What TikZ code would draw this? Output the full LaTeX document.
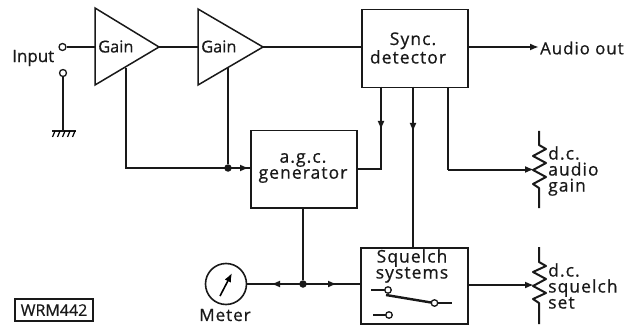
\documentclass[tikz,border=0pt]{standalone}
\usepackage{fontspec}
\setmainfont{Open Sans}[FakeBold=0.7]
\newfontfamily\widefont{Open Sans}[FakeBold=0.7,LetterSpace=6]
\usetikzlibrary{arrows.meta,calc}
\tikzset{
  wire/.style={line width=2pt,black!90},
  thin wire/.style={line width=1.5pt,black!90},
  arr/.style={wire,-{Latex[length=9pt,width=7pt]}},
  blockbox/.style={draw=black!90,line width=1.5pt,fill=white,inner sep=0pt},
  lbl/.style={font=\fontsize{17}{16}\selectfont,inner sep=0pt,text=black!90,align=center},
  lblwide/.style={font=\widefont\fontsize{17.5}{16}\selectfont,inner sep=0pt,text=black!90,align=center},
  term/.style={circle,draw=black!90,line width=1.3pt,fill=white,minimum size=7pt,inner sep=0pt},
  junction/.style={circle,fill=black!90,minimum size=7.5pt,inner sep=0pt},
}
\begin{document}
\begin{tikzpicture}[x=1pt,y=-1pt]
\useasboundingbox (0,0) rectangle (634,326);
% ---- coordinates
\coordinate (g1a) at (95,8); \coordinate (g1b) at (95,85); \coordinate (g1c) at (159,47);
\coordinate (g2a) at (198,9); \coordinate (g2b) at (198,85); \coordinate (g2c) at (263,47);
\coordinate (g1i) at (95,47); \coordinate (g2i) at (198,47);
\coordinate (g1f) at (125.5,68); \coordinate (g2f) at (228,68);
% ---- blocks
\node[blockbox,minimum width=106pt,minimum height=78pt,anchor=north west] (sync) at (361,9) {};
\node[lblwide] (synct) at (408,48) {\hspace*{10pt}Sync.\\detector};
\node[blockbox,minimum width=106pt,minimum height=77pt,anchor=north west] (agc) at (250,130) {};
\node[lblwide] (agct) at (303,168) {a.g.c.\\generator};
\node[blockbox,minimum width=107pt,minimum height=76pt,anchor=north west] (sq) at (360,247) {};
\node[lblwide] (sqt) at (412,266) {Squelch\\systems};
% ---- gains
\draw[thin wire,line join=miter] (g1a) -- (g1c) -- (g1b) -- cycle;
\draw[thin wire,line join=miter] (g2a) -- (g2c) -- (g2b) -- cycle;
\node[lbl,anchor=west,font=\fontsize{16.4}{16}\selectfont] (gain1) at (98,46.5) {Gain};
\node[lbl,anchor=west,font=\fontsize{16.4}{16}\selectfont] (gain2) at (201,46.5) {Gain};
% ---- input
\node[term] (in1) at (62.5,47) {};
\node[term] (in2) at (63,73) {};
\node[lbl,anchor=west] (input) at (12,58) {Input};
\coordinate (gnd) at (63,131);
\draw[wire] (in1) -- (g1i);
\draw[wire] (in2) -- (gnd);
\draw[wire] (52,131) -- (76,131);
\foreach \x in {55,60,65,70,75}{\draw[line width=1.2pt] (\x,131) -- (\x-2.5,137);}
% ---- signal path
\draw[wire] (g1c) -- (g2i);
\draw[wire] (g2c) -- (sync.west |- g2c);
\coordinate (aud) at (539,47);
\draw[arr] (sync.east |- aud) -- (aud);
\node[lbl,anchor=west,font=\widefont\fontsize{16.8}{16}\selectfont] (audio) at (540,48) {Audio out};
% ---- feedback
\coordinate (fb) at (125.5,168);
\coordinate (j1p) at (228,168);
\node[junction] (j1) at (j1p) {};
\draw[wire] (g1f) -- (fb) -- (agc.west |- fb);
\draw[wire] (g2f) -- (j1);
\draw[arr] (j1) -- (249,168);
% ---- sync outputs
\coordinate (s1) at (381,87); \coordinate (s1b) at (381,169);
\draw[wire] (s1) -- (s1b) -- (agc.east |- s1b);
\draw[arr] (s1) -- (381,130);
\coordinate (s2) at (413,87); \coordinate (s2b) at (413,247);
\draw[wire] (s2) -- (s2b);
\draw[arr] (s2) -- (413,132);
\coordinate (s3) at (448,87); \coordinate (pot1w) at (534,169.5);
\draw[wire] (s3) -- (448,169.5);
\draw[arr] (448,169.5) -- (pot1w);
% ---- pots
\draw[wire,line join=round] (539,131) -- (539,145) -- (546,149) -- (533,156) -- (546,163) -- (533,170) -- (546,177) -- (533,184) -- (539,188) -- (539,208);
\node[lblwide,align=left,anchor=west] (pot1t) at (548,171) {d.c.\\audio\\gain};
\draw[wire,line join=round] (539,247) -- (539,262) -- (546,266) -- (533,272) -- (546,279) -- (533,286) -- (546,293) -- (533,299) -- (539,303) -- (539,324);
\node[lblwide,align=left,anchor=west] (pot2t) at (548,286) {d.c.\\squelch\\set};
\coordinate (pot2w) at (534,285);
\draw[arr] (sq.east |- pot2w) -- (pot2w);
% ---- meter
\node[circle,draw=black!90,line width=1.6pt,minimum size=41pt,inner sep=0pt] (meter) at (226,284) {};
\node[lbl,font=\widefont\fontsize{17}{16}\selectfont] (metert) at (225,315) {Meter};
\coordinate (nd1) at (220,296); \coordinate (nd2) at (232,273);
\draw[line width=1.6pt,-{Latex[length=9pt,width=7pt]}] (nd1) -- (nd2);
\coordinate (j2p) at (303,284);
\draw[wire] (meter.east) -- (sq.west |- meter.east);
\node[junction] (j2) at (j2p) {};
\draw[wire] (agc.south -| j2p) -- (j2);
\draw[arr] (j2) -- (271,284);
\draw[arr] (j2) -- (337,284);
% ---- switch
\coordinate (sw0) at (371,290); \coordinate (sw4) at (452,303); \coordinate (sw5) at (373,315);
\draw[wire,line width=2.4pt] (386,295) -- (434,303);
\draw[wire] (434,303) -- (sw4);
\draw[wire] (sw0) -- (388,290);
\draw[wire] (sw5) -- (389,315);
\node[term,minimum size=6.5pt] (swa) at (388,290) {};
\node[term,minimum size=6.5pt] (swb) at (434.5,303) {};
\node[term,minimum size=6.5pt] (swc) at (389,315) {};
% ---- label
\node[draw=black!90,line width=1.6pt,minimum width=78pt,minimum height=22pt,inner sep=0pt,font=\fontsize{16}{16}\selectfont,text=black!90] (wrm) at (54,310) {WRM442};
\end{tikzpicture}
\end{document}
